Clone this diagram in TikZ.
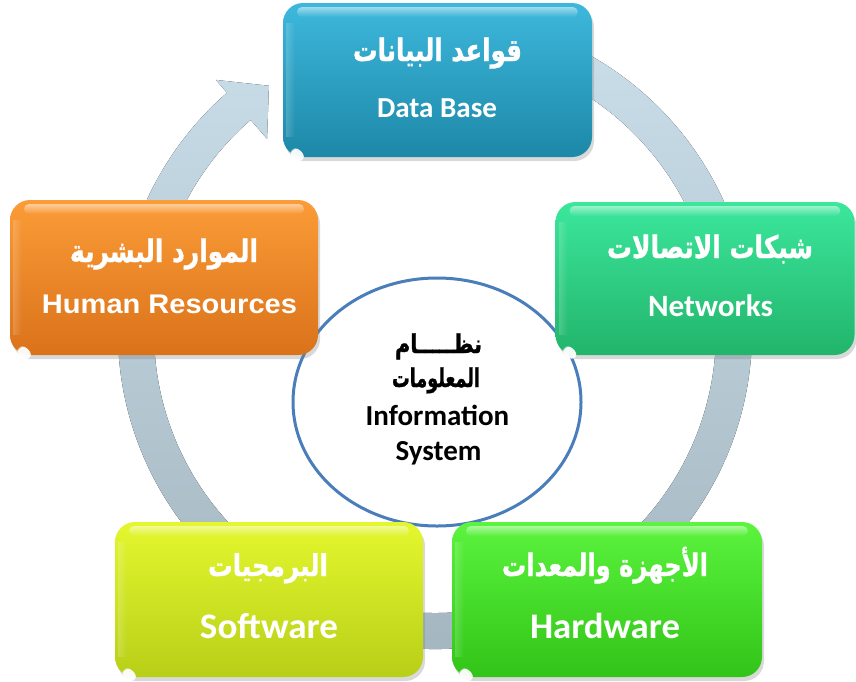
\documentclass[tikz,border=0pt]{standalone}
\usepackage{fontspec}
\usepackage{graphicx}
\usetikzlibrary{shadows,fadings,shapes.geometric}
\setmainfont{Carlito}
\newfontfamily\arabicfont[Script=Arabic, BoldFeatures={FakeBold=1.2}]{DejaVu Sans}
\newfontfamily\arialfont{Liberation Sans}
\TeXXeTstate=1

\definecolor{ringTop}{HTML}{CADFEA}
\definecolor{ringBot}{HTML}{A3B5BF}
\definecolor{circBlue}{HTML}{4A7EBB}
\definecolor{dbTop}{HTML}{3DB8DC}
\definecolor{dbBot}{HTML}{1D88A8}
\definecolor{nwTop}{HTML}{3BE79C}
\definecolor{nwBot}{HTML}{22B46B}
\definecolor{hrTop}{HTML}{FB9C37}
\definecolor{hrBot}{HTML}{DA721A}
\definecolor{swTop}{HTML}{E4F72E}
\definecolor{swBot}{HTML}{B8CF18}
\definecolor{hwTop}{HTML}{5BF43E}
\definecolor{hwBot}{HTML}{32C418}

\tikzset{
  card/.style 2 args={rounded corners=20pt, top color=#1, bottom color=#2,
    inner sep=0pt, outer sep=0pt,
    drop shadow={shadow xshift=2pt, shadow yshift=-4pt, opacity=0.3}},
  arlabel/.style={text=white, anchor=base, inner sep=0pt,
    font=\arabicfont\bfseries\fontsize{#1}{#1}\selectfont},
  enlabel/.style={text=white, anchor=base, inner sep=0pt,
    font=\bfseries\fontsize{#1}{#1}\selectfont},
  arlabeldark/.style={arlabel=#1, text=black},
  enlabeldark/.style={enlabel=#1, text=black},
}

% glossy top band, side sheen and corner glint of a card
\newcommand\cardgloss[1]{%
  \fill[white, opacity=.5, path fading=south, rounded corners=5pt]
    ([xshift=14pt,yshift=-4pt]#1.north west) rectangle ([xshift=-14pt,yshift=-14pt]#1.north east);
  \fill[white, opacity=.18, path fading=east]
    ([xshift=3pt,yshift=-20pt]#1.north west) rectangle ([xshift=12pt,yshift=20pt]#1.south west);
  \fill[white, opacity=.95, path fading=circle with fuzzy edge 20 percent, rotate around={-40:([xshift=9pt,yshift=11pt]#1.south west)}]
    ([xshift=9pt,yshift=11pt]#1.south west) ellipse[x radius=8pt, y radius=5pt];
}

\begin{document}
\begin{tikzpicture}[x=1pt,y=1pt]
\useasboundingbox (0,0) rectangle (856,-681);

% cycle arrow behind the cards
\begin{scope}[shift={(435,-332)}]
  \fill[top color=ringTop, bottom color=ringBot]
    (80:317pt) arc[start angle=80, end angle=-229, radius=317pt]
    -- (131:334pt) -- (124:297pt) -- (131:256pt) -- (131:281pt)
    arc[start angle=-229, end angle=80, radius=281pt] -- cycle;
\end{scope}

% central ellipse
\node[ellipse, draw=circBlue, line width=3pt, fill=white,
      minimum width=288pt, minimum height=248pt] (core) at (437,-402) {};

% cards
\node[card={dbTop}{dbBot}, minimum width=309pt, minimum height=154pt] (db) at (437.5,-80) {};
\node[card={nwTop}{nwBot}, minimum width=299pt, minimum height=153pt] (nw) at (705,-278.5) {};
\node[card={hrTop}{hrBot}, minimum width=308pt, minimum height=155pt] (hr) at (164,-277.5) {};
\node[card={swTop}{swBot}, minimum width=308pt, minimum height=155pt] (sw) at (269,-599.5) {};
\node[card={hwTop}{hwBot}, minimum width=310pt, minimum height=155pt] (hw) at (607,-599.5) {};
\cardgloss{db}
\cardgloss{nw}
\cardgloss{hr}
\cardgloss{sw}
\cardgloss{hw}

% card labels
\node[arlabel=31pt] (dbAr) at (437.5,-61) {\resizebox{169pt}{\height}{\beginR قواعد البيانات\endR}};
\node[enlabel=29pt] (dbEn) at (437,-117) {\resizebox{120pt}{\height}{Data Base}};

\node[arlabel=31pt] (nwAr) at (710,-258) {\resizebox{206pt}{\height}{\beginR شبكات الاتصالات\endR}};
\node[enlabel=31pt] (nwEn) at (710.5,-316) {\resizebox{125pt}{\height}{Networks}};

\node[arlabel=31pt] (hrAr) at (164,-262) {\resizebox{188pt}{\height}{\beginR الموارد البشرية\endR}};
\node[enlabel=29pt, font=\arialfont\bfseries\fontsize{27pt}{27pt}\selectfont] (hrEn) at (169.5,-313) {\resizebox{255pt}{\height}{Human Resources}};

\node[arlabel=30pt] (swAr) at (268,-576) {\resizebox{120pt}{\height}{\beginR البرمجيات\endR}};
\node[enlabel=36pt] (swEn) at (269,-638) {\resizebox{138pt}{\height}{Software}};

\node[arlabel=31pt] (hwAr) at (605,-576) {\resizebox{206pt}{\height}{\beginR الأجهزة والمعدات\endR}};
\node[enlabel=36pt] (hwEn) at (605,-638) {\resizebox{150pt}{\height}{Hardware}};

% ellipse labels
\node[arlabeldark=26pt] (coreAr1) at (438.5,-353) {\resizebox{87pt}{\height}{\beginR نظـــــام\endR}};
\node[arlabeldark=26pt] (coreAr2) at (436,-387) {\resizebox{88pt}{\height}{\beginR المعلومات\endR}};
\node[enlabeldark=29pt] (coreEn1) at (437.5,-425) {Information};
\node[enlabeldark=29pt] (coreEn2) at (438.5,-460) {System};
\end{tikzpicture}
\end{document}
